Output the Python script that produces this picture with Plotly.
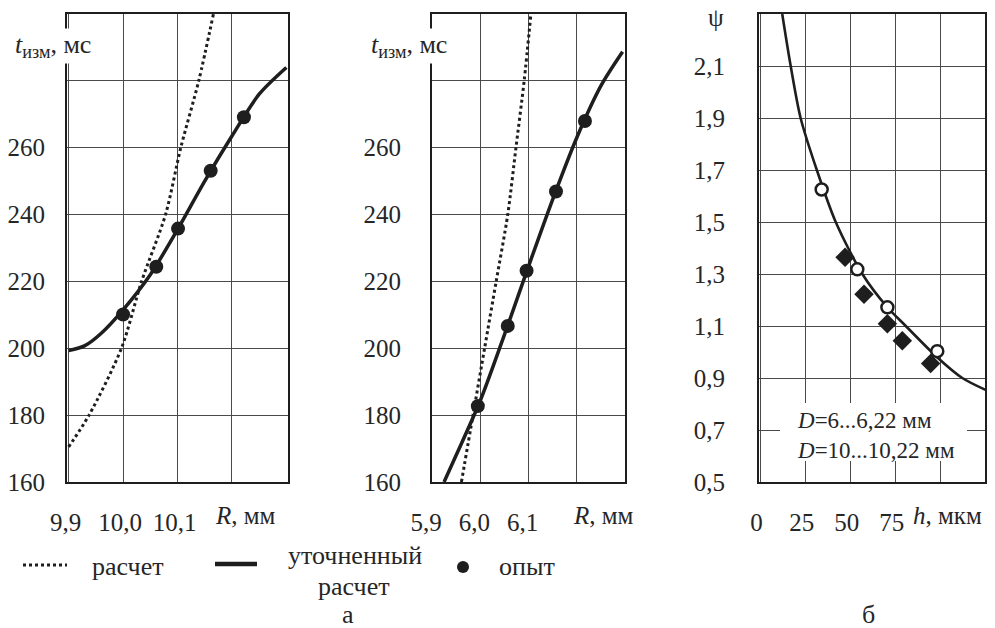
import plotly.graph_objects as go

# ---------------- data ----------------
# panel "а", left: R = 10...10.22 mm
r1_calc = [9.9, 9.9375, 9.997, 10.034, 10.078, 10.106, 10.139, 10.166]
t1_calc = [170.5, 180, 200, 220, 240, 260, 280, 300]
r1_fine = [9.9, 9.93, 9.96, 10.0, 10.05, 10.1, 10.15, 10.2, 10.25, 10.3]
t1_fine = [199.3, 200.8, 204.5, 211.5, 222, 235.5, 250, 263.5, 276, 284]
r1_exp = [10.0, 10.061, 10.101, 10.161, 10.222]
t1_exp = [210.1, 224.4, 235.8, 253.1, 269.1]

# panel "а", middle: R = 6...6.22 mm
r2_calc = [5.961, 5.985, 6.009, 6.033, 6.057, 6.074, 6.091, 6.105]
t2_calc = [160, 180, 200, 220, 240, 260, 280, 300]
r2_fine = [5.925, 5.95, 6.0, 6.05, 6.1, 6.15, 6.2, 6.25, 6.295]
t2_fine = [160, 168, 184.3, 204, 224.5, 244.5, 263, 278.5, 288.7]
r2_exp = [5.995, 6.057, 6.096, 6.157, 6.217]
t2_exp = [182.7, 206.7, 223.2, 246.9, 268.0]

# panel "б": psi(h)
h_curve = [12, 16.7, 22.2, 31.2, 41.7, 56.5, 70, 80.6, 98, 112, 125]
psi_curve = [2.3, 2.1, 1.9, 1.7, 1.5, 1.3, 1.175, 1.1, 0.98, 0.9, 0.854]
h_circ = [33.9, 53.7, 70.4, 98.1]
psi_circ = [1.625, 1.318, 1.172, 1.003]
h_diam = [46.9, 57.4, 70.4, 78.7, 94.4]
psi_diam = [1.364, 1.222, 1.109, 1.043, 0.956]

# tick labels (labelled ticks) and extra grid lines (unlabelled)
t_ticks = [160, 180, 200, 220, 240, 260]
t_ticktext = ["160", "180", "200", "220", "240", "260"]
t_grid_extra = [280]
r1_ticks = [9.9, 10.0, 10.1]
r1_ticktext = ["9,9", "10,0", "10,1"]
r1_grid_extra = [10.2]
r2_ticks = [5.9, 6.0, 6.1]
r2_ticktext = ["5,9", "6,0", "6,1"]
r2_grid_extra = [6.2]
h_ticks = [0, 25, 50, 75]
h_ticktext = ["0", "25", "50", "75"]
h_grid_extra = [100]
psi_ticks = [0.5, 0.7, 0.9, 1.1, 1.3, 1.5, 1.7, 1.9, 2.1]
psi_ticktext = ["0,5", "0,7", "0,9", "1,1", "1,3", "1,5", "1,7", "1,9", "2,1"]

# ---------------- figure ----------------
W, H = 995, 628
FONT = "Liberation Serif"
TXT = "#262626"
INK = "#1e1e1e"
GRID = "#4a4a4a"


def px(x):
    return x / W


def py(y):
    return 1 - y / H


fig = go.Figure()

line_fine = dict(color=INK, width=3.5, shape="spline", smoothing=0.8)
line_calc = dict(color=INK, width=3, dash="3px,3px", shape="spline", smoothing=0.8)
mk_exp = dict(color=INK, size=14, symbol="circle")

fig.add_trace(go.Scatter(x=r1_calc, y=t1_calc, mode="lines", line=line_calc, xaxis="x", yaxis="y"))
fig.add_trace(go.Scatter(x=r1_fine, y=t1_fine, mode="lines", line=line_fine, xaxis="x", yaxis="y"))
fig.add_trace(go.Scatter(x=r1_exp, y=t1_exp, mode="markers", marker=mk_exp, xaxis="x", yaxis="y"))

fig.add_trace(go.Scatter(x=r2_calc, y=t2_calc, mode="lines", line=line_calc, xaxis="x2", yaxis="y2"))
fig.add_trace(go.Scatter(x=r2_fine, y=t2_fine, mode="lines", line=line_fine, xaxis="x2", yaxis="y2"))
fig.add_trace(go.Scatter(x=r2_exp, y=t2_exp, mode="markers", marker=mk_exp, xaxis="x2", yaxis="y2"))

fig.add_trace(go.Scatter(x=h_curve, y=psi_curve, mode="lines",
                         line=dict(color=INK, width=2.6, shape="spline", smoothing=0.8),
                         xaxis="x3", yaxis="y3"))
fig.add_trace(go.Scatter(x=h_diam, y=psi_diam, mode="markers",
                         marker=dict(color=INK, size=15, symbol="diamond"),
                         xaxis="x3", yaxis="y3"))
fig.add_trace(go.Scatter(x=h_circ, y=psi_circ, mode="markers",
                         marker=dict(color="white", size=12, symbol="circle",
                                     line=dict(color=INK, width=2.5)),
                         xaxis="x3", yaxis="y3"))

ydom = [py(482), py(14)]
tickfont = dict(family=FONT, size=25, color=TXT)
common = dict(showline=True, mirror=True, linecolor=INK, linewidth=2,
              showgrid=True, gridcolor=GRID, gridwidth=1.4, zeroline=False,
              ticks="", tickmode="array", fixedrange=True, tickfont=tickfont,
              automargin=False)


def minor(vals):
    return dict(tickmode="array", tickvals=vals, showgrid=True, gridcolor=GRID,
                gridwidth=1.4, ticks="")


fig.update_layout(
    width=W, height=H,
    margin=dict(l=0, r=0, t=0, b=0, autoexpand=False),
    paper_bgcolor="white", plot_bgcolor="white",
    showlegend=False,
    font=dict(family=FONT, color=TXT),
    xaxis=dict(domain=[px(67), px(288)], range=[9.897, 10.303], anchor="y",
               tickvals=r1_ticks, ticktext=r1_ticktext, minor=minor(r1_grid_extra),
               ticklabelstandoff=17, ticklabelshift=-3, **common),
    yaxis=dict(domain=ydom, range=[160, 300], anchor="x",
               tickvals=t_ticks, ticktext=t_ticktext, minor=minor(t_grid_extra),
               ticklabelstandoff=15, **common),
    xaxis2=dict(domain=[px(432), px(625)], range=[5.9, 6.3], anchor="y2",
                tickvals=r2_ticks, ticktext=r2_ticktext, minor=minor(r2_grid_extra),
                ticklabelstandoff=17, ticklabelshift=-6, **common),
    yaxis2=dict(domain=ydom, range=[160, 300], anchor="x2",
                tickvals=t_ticks, ticktext=t_ticktext, minor=minor(t_grid_extra),
                ticklabelstandoff=24, **common),
    xaxis3=dict(domain=[px(759), px(985)], range=[-0.9, 124.6], anchor="y3",
                tickvals=h_ticks, ticktext=h_ticktext, minor=minor(h_grid_extra),
                ticklabelstandoff=17, ticklabelshift=-4, **common),
    yaxis3=dict(domain=ydom, range=[0.5, 2.3], anchor="x3",
                tickvals=psi_ticks, ticktext=psi_ticktext, ticklabelstandoff=27, **common),
)

# white box of the inner legend (panel б)
fig.add_shape(type="rect", xref="paper", yref="paper",
              x0=px(780), x1=px(967), y0=py(461), y1=py(403),
              fillcolor="white", line=dict(width=0), layer="above")

annots = []


def ann(text, x, y, size=25, xanchor="center", bg=None, align="center", yanchor="middle"):
    d = dict(text=text, x=px(x), y=py(y), xref="paper", yref="paper",
             xanchor=xanchor, yanchor=yanchor, showarrow=False, align=align,
             font=dict(family=FONT, size=size, color=TXT))
    if bg:
        d["bgcolor"] = bg
        d["borderpad"] = 1
    annots.append(d)


# axis titles
ann("<i>t</i><sub>изм</sub>, мс", 53, 46, size=26, bg="white")
ann("<i>t</i><sub>изм</sub>, мс", 409, 46, size=26, bg="white")
ann("ψ", 716, 18)
ann("<i>R</i>, мм", 245, 515)
ann("<i>R</i>, мм", 603, 515)
ann("<i>h</i>, мкм", 947, 515)

# inner legend text
ann("<i>D</i>=6...6,22 мм<br><i>D</i>=10...10,22 мм", 795, 435, size=23,
    xanchor="left", align="left")

# bottom legend
ann("расчет", 90, 566, size=26, xanchor="left")
ann("уточненный", 355, 555, size=26)
ann("расчет", 354, 586, size=26)
ann("опыт", 497, 566, size=26, xanchor="left")
ann("а", 348, 614, size=26)
ann("б", 868, 614, size=26)

fig.update_layout(annotations=annots)

# legend swatches
fig.add_shape(type="line", xref="paper", yref="paper", x0=px(23), x1=px(67),
              y0=py(565), y1=py(565), line=dict(color=INK, width=3, dash="3px,3px"))
fig.add_shape(type="line", xref="paper", yref="paper", x0=px(215), x1=px(257),
              y0=py(564), y1=py(564), line=dict(color=INK, width=4.5))
fig.add_shape(type="circle", xref="paper", yref="paper", x0=px(457), x1=px(469),
              y0=py(573), y1=py(561), fillcolor=INK, line=dict(color=INK, width=0))

fig.write_html("out.html", config={"displayModeBar": False},
               post_script="document.body.style.margin='0px';")
